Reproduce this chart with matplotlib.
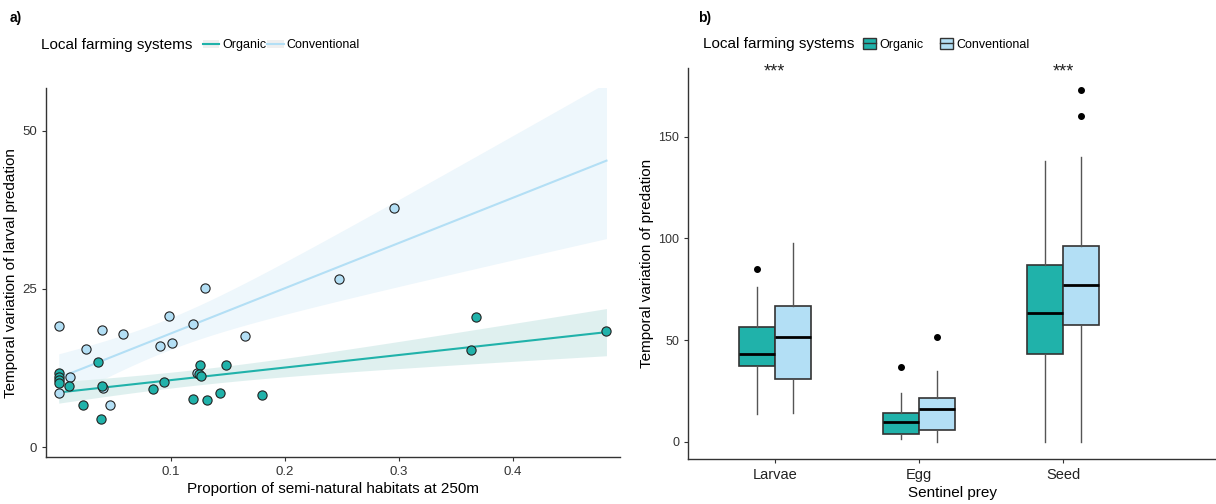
import numpy as np
import matplotlib.pyplot as plt
from matplotlib.lines import Line2D
from matplotlib.patches import Patch

plt.rcParams['font.family'] = ['Liberation Sans', 'DejaVu Sans']

# panel a: proportion of semi-natural habitats vs temporal variation of larval predation
org_x = [0.002, 0.002, 0.002, 0.002, 0.011, 0.036, 0.023, 0.039, 0.040, 0.085, 0.094,
         0.120, 0.132, 0.143, 0.126, 0.149, 0.125, 0.127, 0.180, 0.368, 0.363, 0.482]
org_y = [11.7, 11.1, 10.6, 10.1, 9.7, 13.4, 6.6, 4.4, 9.6, 9.2, 10.3,
         7.6, 7.4, 8.5, 13.0, 13.0, 11.5, 11.2, 8.2, 20.5, 15.4, 18.4]
conv_x = [0.002, 0.040, 0.058, 0.026, 0.099, 0.120, 0.091, 0.101, 0.165, 0.012,
          0.002, 0.041, 0.047, 0.123, 0.130, 0.248, 0.296]
conv_y = [19.2, 18.5, 17.8, 15.5, 20.7, 19.4, 15.9, 16.4, 17.6, 11.0,
          8.6, 9.4, 6.6, 11.7, 25.1, 26.6, 37.7]

# panel b: box statistics per sentinel prey
prey = ['Larvae', 'Egg', 'Seed']
org_stats = [  # whislo, q1, med, q3, whishi, fliers
    (13.8, 37.5, 43.0, 56.2, 76.0, [85.0]),
    (1.2, 3.9, 9.8, 14.1, 24.0, [36.6]),
    (0.0, 43.0, 63.4, 86.9, 138.0, []),
]
conv_stats = [
    (14.0, 30.7, 51.5, 66.7, 97.7, []),
    (0.0, 5.6, 16.2, 21.6, 34.6, [51.5]),
    (0.0, 57.4, 76.9, 96.0, 140.0, [160.0, 173.0]),
]
signif = ['***', '', '***']

ORG = '#20B2AA'
CONV = '#B3DFF5'
ORG_BAND = '#DCEFEE'
CONV_BAND = '#EEF7FC'


def lm_band(x, y, xs, t=2.13):
    x = np.asarray(x); y = np.asarray(y)
    n = len(x)
    b, a = np.polyfit(x, y, 1)
    fit = a + b * xs
    resid = y - (a + b * x)
    s = np.sqrt(np.sum(resid ** 2) / (n - 2))
    se = s * np.sqrt(1 / n + (xs - x.mean()) ** 2 / np.sum((x - x.mean()) ** 2))
    return fit, fit - t * se, fit + t * se


fig = plt.figure(figsize=(12.16, 5.04), dpi=100)
axa = fig.add_axes([0.038, 0.093, 0.472, 0.732])
axb = fig.add_axes([0.566, 0.089, 0.434, 0.776])

xs = np.linspace(min(org_x + conv_x), max(org_x + conv_x), 100)
cf, clo, chi = lm_band(conv_x, conv_y, xs)
of, olo, ohi = lm_band(org_x, org_y, xs)
axa.fill_between(xs, clo, chi, color=CONV_BAND, lw=0, zorder=1)
axa.fill_between(xs, olo, ohi, color=ORG_BAND, lw=0, zorder=1, alpha=0.9)
axa.plot(xs, cf, color=CONV, lw=1.5, zorder=2)
axa.plot(xs, of, color=ORG, lw=1.5, zorder=2)
axa.scatter(conv_x, conv_y, s=44, color=CONV, edgecolor='#222222', lw=0.8, zorder=3)
axa.scatter(org_x, org_y, s=44, color=ORG, edgecolor='#222222', lw=0.8, zorder=4)

axa.set_xlim(-0.009, 0.494)
axa.set_ylim(-1.6, 56.7)
axa.set_xticks([0.1, 0.2, 0.3, 0.4])
axa.set_yticks([0, 25, 50])
axa.set_xlabel('Proportion of semi-natural habitats at 250m', fontsize=11, labelpad=3)
axa.set_ylabel('Temporal variation of larval predation', fontsize=11, labelpad=3)

# panel b boxplots
pos = np.arange(len(prey))
for stats, off, col in [(org_stats, -0.125, ORG), (conv_stats, 0.125, CONV)]:
    bxs = [dict(whislo=s[0], q1=s[1], med=s[2], q3=s[3], whishi=s[4], fliers=s[5])
           for s in stats]
    axb.bxp(bxs, positions=pos + off, widths=0.25, patch_artist=True, showcaps=False,
            boxprops=dict(facecolor=col, edgecolor='#333333', lw=1.2),
            medianprops=dict(color='black', lw=2),
            whiskerprops=dict(color='#555555', lw=1),
            flierprops=dict(marker='o', markersize=4, markerfacecolor='black',
                            markeredgecolor='black'))
for p, s in zip(pos, signif):
    if s:
        axb.text(p, 182, s, ha='center', va='center', fontsize=13, color='#222222')

axb.set_xlim(-0.6, 3.06)
axb.set_ylim(-8.5, 183.7)
axb.set_xticks(pos)
axb.set_xticklabels(prey)
axb.set_yticks([0, 50, 100, 150])
axb.set_xlabel('Sentinel prey', fontsize=11, labelpad=3)
axb.set_ylabel('Temporal variation of predation', fontsize=11, labelpad=3)

for ax in (axa, axb):
    for side in ('top', 'right'):
        ax.spines[side].set_visible(False)
    for side in ('left', 'bottom'):
        ax.spines[side].set_color('#333333')
        ax.spines[side].set_linewidth(1.0)
    ax.tick_params(direction='out', length=3, width=0.8, color='#333333',
                   labelsize=9.5, labelcolor='#333333')
axb.tick_params(axis='y', labelsize=9)
axb.tick_params(axis='x', labelsize=10.5, labelcolor='#222222')

# panel labels and legends
fig.text(0.008, 0.965, 'a)', fontsize=10, fontweight='bold', va='center')
fig.text(0.574, 0.965, 'b)', fontsize=10, fontweight='bold', va='center')
fig.text(0.034, 0.91, 'Local farming systems', fontsize=11, va='center')
fig.text(0.578, 0.912, 'Local farming systems', fontsize=11, va='center')

ha = [(Patch(facecolor='#EFEFEF', edgecolor='none'), Line2D([], [], color=ORG, lw=1.5)),
      (Patch(facecolor='#EFEFEF', edgecolor='none'), Line2D([], [], color=CONV, lw=1.5))]
fig.legend(ha, ['Organic', 'Conventional'], loc='center left',
           bbox_to_anchor=(0.163, 0.91), ncol=2, frameon=False, fontsize=9,
           handlelength=1.3, handletextpad=0.2, columnspacing=0.1, borderaxespad=0)

hb = [(Patch(facecolor=ORG, edgecolor='#333333'), Line2D([], [], color='#333333', lw=1)),
      (Patch(facecolor=CONV, edgecolor='#333333'), Line2D([], [], color='#333333', lw=1))]
fig.legend(hb, ['Organic', 'Conventional'], loc='center left',
           bbox_to_anchor=(0.706, 0.912), ncol=2, frameon=False, fontsize=9,
           handlelength=1.0, handleheight=1.0, handletextpad=0.3, columnspacing=1.3,
           borderaxespad=0)

fig.savefig('out.png', dpi=100)
